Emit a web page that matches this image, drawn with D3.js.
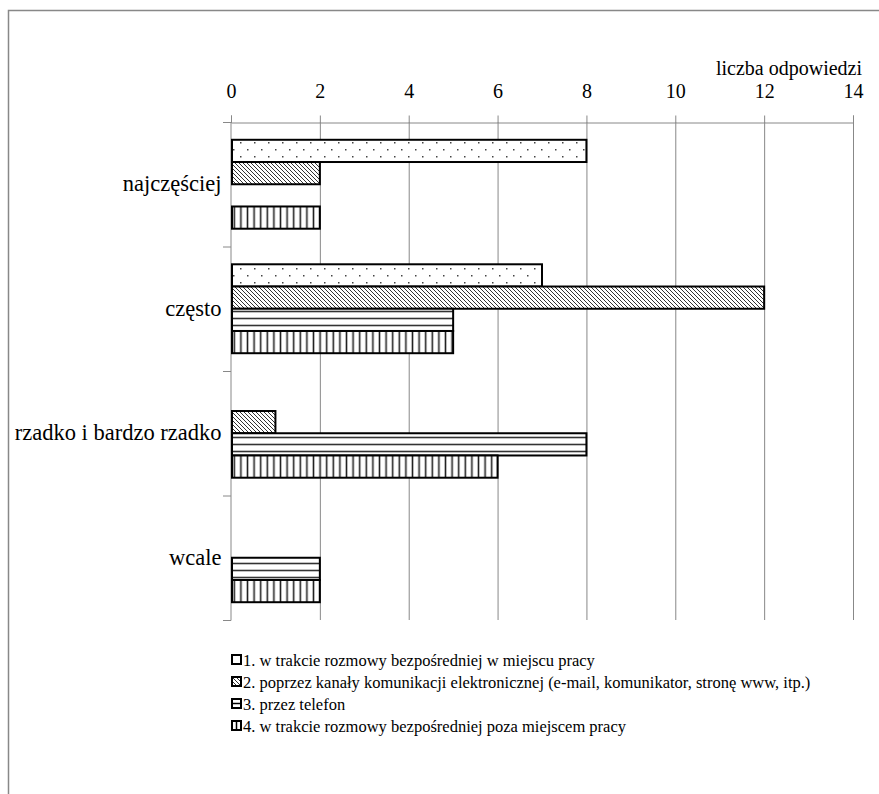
<!DOCTYPE html>
<html><head><meta charset="utf-8">
<script src="https://cdn.jsdelivr.net/npm/d3@7"></script>
</head><body style="margin:0;background:#fff"><svg id="c" width="879" height="794"></svg>
<script>
const categories = ["najczęściej", "często", "rzadko i bardzo rzadko", "wcale"];
const seriesNames = [
  "1. w trakcie rozmowy bezpośredniej w miejscu pracy",
  "2. poprzez kanały komunikacji elektronicznej (e-mail, komunikator, stronę www, itp.)",
  "3. przez telefon",
  "4. w trakcie rozmowy bezpośredniej poza miejscem pracy"
];
const s1 = [8, 7, 0, 0];
const s2 = [2, 12, 1, 0];
const s3 = [0, 5, 8, 2];
const s4 = [2, 5, 6, 2];
const seriesValues = [s1, s2, s3, s4];
const xTicks = [0, 2, 4, 6, 8, 10, 12, 14];
const axisTitle = "liczba odpowiedzi";
const FONT = "Liberation Serif";

const svg = d3.select("#c");
const defs = svg.append("defs");
const pDots = defs.append("pattern").attr("id","p0").attr("patternUnits","userSpaceOnUse").attr("width",14).attr("height",14);
pDots.append("rect").attr("width",14).attr("height",14).attr("fill","#fff");
pDots.append("rect").attr("x",2).attr("y",2).attr("width",1.5).attr("height",1.5).attr("fill","#444");
pDots.append("rect").attr("x",9).attr("y",9).attr("width",1.5).attr("height",1.5).attr("fill","#444");
const pDiag = defs.append("pattern").attr("id","p1").attr("patternUnits","userSpaceOnUse").attr("width",4).attr("height",4);
pDiag.append("rect").attr("width",4).attr("height",4).attr("fill","#fff");
pDiag.append("path").attr("d","M-1,-1L5,5M-1,3L1,5M3,-1L5,1").attr("stroke","#333").attr("stroke-width",1);
const pHor = defs.append("pattern").attr("id","p2").attr("patternUnits","userSpaceOnUse").attr("width",7).attr("height",7);
pHor.append("rect").attr("width",7).attr("height",7).attr("fill","#fff");
pHor.append("path").attr("d","M0,3.5H7").attr("stroke","#333").attr("stroke-width",1.6);
const pVer = defs.append("pattern").attr("id","p3").attr("patternUnits","userSpaceOnUse").attr("width",6.6).attr("height",7);
pVer.append("rect").attr("width",6.6).attr("height",7).attr("fill","#fff");
pVer.append("path").attr("d","M3.3,0V7").attr("stroke","#222").attr("stroke-width",1.6);

svg.append("path").attr("d","M8.5,794V10.5H879").attr("fill","none").attr("stroke","#888").attr("stroke-width",1.5);

const x = d3.scaleLinear().domain([0,14]).range([231,853]);
const y = d3.scaleBand().domain(categories).range([122,620]).padding(0);
const yIn = d3.scaleBand().domain(d3.range(4)).range([0,y.bandwidth()]).paddingInner(0).paddingOuter(0.8);

svg.append("g").selectAll("line").data(xTicks.slice(1)).join("line")
  .attr("x1",d=>x(d)+0.5).attr("x2",d=>x(d)+0.5).attr("y1",122).attr("y2",620)
  .attr("stroke","#888").attr("stroke-width",1);

const xa = svg.append("g").attr("transform","translate(0,122.5)")
  .call(d3.axisTop(x).tickValues(xTicks).tickSize(7).tickPadding(18));
xa.attr("font-family",FONT).attr("font-size",20);
xa.select(".domain").attr("stroke","#888");
xa.selectAll(".tick line").attr("stroke","#888");
xa.selectAll(".tick text").attr("font-family",FONT).attr("font-size",20).attr("fill","#000");

svg.append("text").attr("x",862).attr("y",75).attr("text-anchor","end")
  .attr("font-family",FONT).attr("font-size",20).attr("fill","#000").text(axisTitle);

const ya = svg.append("g").attr("transform","translate(230.5,0)")
  .call(d3.axisLeft(y).tickSize(0).tickPadding(9));
ya.attr("font-family",FONT).attr("font-size",22.5);
ya.select(".domain").attr("stroke","#888");
ya.selectAll(".tick text").attr("font-family",FONT).attr("font-size",22.5).attr("fill","#000");
const bounds = categories.map(c=>y(c)).concat([y.range()[1]]);
svg.append("g").selectAll("line").data(bounds).join("line")
  .attr("x1",223).attr("x2",231).attr("y1",d=>d+0.5).attr("y2",d=>d+0.5)
  .attr("stroke","#888");

const rows = [];
categories.forEach((c,i)=>seriesValues.forEach((s,j)=>{ if(s[i]>0) rows.push({c,j,v:s[i]}); }));
svg.append("g").selectAll("rect").data(rows).join("rect")
  .attr("x",x(0)+1).attr("y",d=>y(d.c)+yIn(d.j))
  .attr("width",d=>x(d.v)-x(0)-1).attr("height",yIn.bandwidth())
  .attr("fill",d=>`url(#p${d.j})`).attr("stroke","#000").attr("stroke-width",2);

const lg = svg.append("g").selectAll("g").data(seriesNames).join("g")
  .attr("transform",(d,i)=>`translate(231,${666+i*22})`);
const iconFill = ["#fff","url(#p1)","#fff","#fff"];
lg.append("rect").attr("x",1).attr("y",-11).attr("width",9).attr("height",9)
  .attr("fill",(d,i)=>iconFill[i]).attr("stroke","#000").attr("stroke-width",2);
lg.filter((d,i)=>i===2).append("line").attr("x1",1).attr("x2",10).attr("y1",-6.5).attr("y2",-6.5).attr("stroke","#000").attr("stroke-width",1.5);
lg.filter((d,i)=>i===3).append("line").attr("x1",5.5).attr("x2",5.5).attr("y1",-11).attr("y2",-2).attr("stroke","#000").attr("stroke-width",1.5);
lg.append("text").attr("x",12).attr("y",0).attr("font-family",FONT).attr("font-size",16.5).attr("fill","#000").text(d=>d);
</script></body></html>
